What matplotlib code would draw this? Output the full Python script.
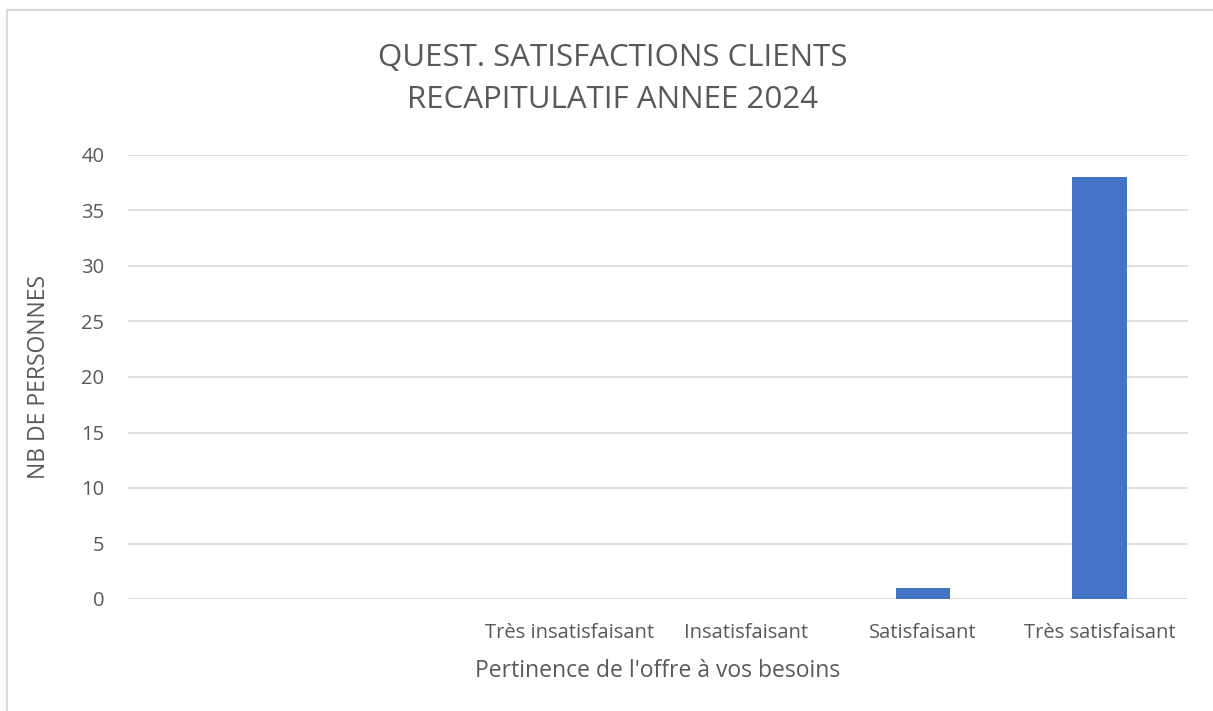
import matplotlib
matplotlib.use("Agg")
import matplotlib.pyplot as plt
from matplotlib.patches import Rectangle

# --- Données -----------------------------------------------------------------
CATEGORIES = ["", "", "Très insatisfaisant", "Insatisfaisant", "Satisfaisant", "Très satisfaisant"]
VALEURS = [0, 0, 0, 0, 1, 38]
Y_TICKS = [0, 5, 10, 15, 20, 25, 30, 35, 40]

GRIS_TEXTE = "#595959"
GRIS_GRILLE = "#d9d9d9"
BLEU = "#4472c4"

plt.rcParams["font.family"] = ["Open Sans", "DejaVu Sans"]

W, H = 1213, 711
fig = plt.figure(figsize=(W / 100, H / 100), dpi=100)
ax = fig.add_axes([128 / W, 1 - 599 / H, (1188 - 128) / W, (599 - 155) / H])

x = range(len(CATEGORIES))
ax.bar(x, VALEURS, width=0.31, color=BLEU, zorder=3)

ax.set_xlim(-0.5, len(CATEGORIES) - 0.5)
ax.set_ylim(0, 40)
ax.set_yticks(Y_TICKS)
ax.set_xticks(list(x))
ax.set_xticklabels(CATEGORIES)
ax.tick_params(axis="both", length=0, colors=GRIS_TEXTE, labelsize=14.5)
ax.tick_params(axis="x", pad=17)
ax.tick_params(axis="y", pad=17)
ax.grid(axis="y", color=GRIS_GRILLE, linewidth=1.2, zorder=0)
for s in ax.spines.values():
    s.set_visible(False)

ax.set_xlabel("Pertinence de l'offre à vos besoins", color=GRIS_TEXTE, fontsize=16.5, labelpad=12)
ax.set_ylabel("NB DE PERSONNES", color=GRIS_TEXTE, fontsize=16.5, labelpad=22)

fig.text(0.505, 1 - 79 / H, "QUEST. SATISFACTIONS CLIENTS\nRECAPITULATIF ANNEE 2024",
         ha="center", va="center", fontsize=22.5, color=GRIS_TEXTE, linespacing=1.55)

# cadre du graphique (sort de l'image à droite et en bas)
fig.patches.append(Rectangle((7 / W, -0.1), 1.2, 1.1 - 10 / H, transform=fig.transFigure,
                             fill=False, edgecolor=GRIS_GRILLE, linewidth=1.5))

fig.savefig("out.png", dpi=100)
